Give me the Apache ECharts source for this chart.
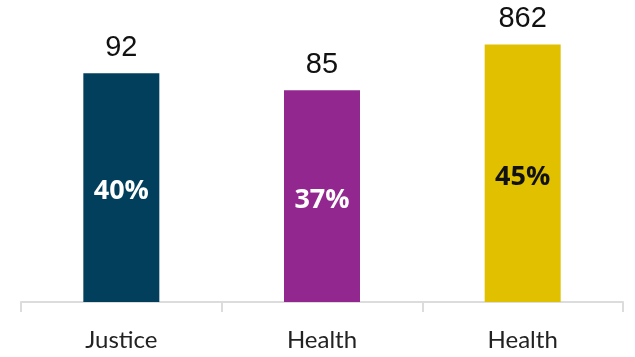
<!DOCTYPE html>
<html>
<head>
<meta charset="utf-8">
<script src="https://cdn.jsdelivr.net/npm/echarts@6/dist/echarts.min.js"></script>
<style>html,body{margin:0;padding:0;background:#fff}#c{width:635px;height:357px}</style>
</head>
<body>
<div id="c"></div>
<script>
var categories = ['Justice', 'Health', 'Health'];
var percentValues = [40, 37, 45];
var countLabels = ['92', '85', '862'];
var barColors = ['#023F5C', '#92278F', '#E1C000'];
var innerTextColors = ['#ffffff', '#ffffff', '#111111'];

var chart = echarts.init(document.getElementById('c'), null, {renderer: 'canvas'});
var data = percentValues.map(function (v, i) {
  return {
    value: v,
    itemStyle: {color: barColors[i]},
    label: {color: innerTextColors[i]}
  };
});
chart.setOption({
  animation: false,
  grid: {left: 21, right: 12, top: 16, bottom: 55},
  xAxis: {
    type: 'category',
    data: categories,
    axisLine: {lineStyle: {color: '#dcdcdc', width: 2}},
    axisTick: {show: true, length: 10, lineStyle: {color: '#dcdcdc', width: 2}},
    axisLabel: {color: '#222', fontFamily: 'Lato', fontSize: 24, margin: 26}
  },
  yAxis: {
    type: 'value', min: 0, max: 50, show: false,
    splitLine: {show: false}
  },
  series: [
    {
      type: 'bar',
      data: data,
      barWidth: 76,
      label: {
        show: true, position: 'inside', offset: [0, 4],
        formatter: '{c}%',
        fontFamily: 'Open Sans', fontWeight: 'bold', fontSize: 27
      }
    },
    {
      type: 'bar',
      data: percentValues,
      barWidth: 76,
      barGap: '-100%',
      itemStyle: {color: 'rgba(0,0,0,0)'},
      silent: true,
      z: 1,
      label: {
        show: true, position: 'top', distance: 11,
        formatter: function (p) { return countLabels[p.dataIndex]; },
        color: '#111', fontFamily: 'Liberation Sans', fontSize: 29
      }
    }
  ]
});
</script>
</body>
</html>
